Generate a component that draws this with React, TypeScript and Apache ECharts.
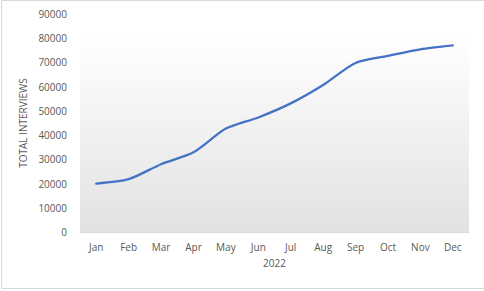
import React, { useEffect, useRef } from "react";
import * as echarts from "echarts";

const months = ["Jan", "Feb", "Mar", "Apr", "May", "Jun", "Jul", "Aug", "Sep", "Oct", "Nov", "Dec"];
const interviews = [20000, 21800, 28000, 32900, 42700, 47300, 53100, 60700, 69800, 72700, 75400, 77000];
const xAxisName = "2022";
const yAxisName = "TOTAL INTERVIEWS";

export default function App() {
  const ref = useRef<HTMLDivElement>(null);
  useEffect(() => {
    if (!ref.current) return;
    const chart = echarts.init(ref.current, null, { renderer: "svg" });
    const font = "Open Sans, Calibri, Carlito, sans-serif";
    chart.setOption({
      animation: false,
      backgroundColor: "#ffffff",
      textStyle: { fontFamily: font },
      graphic: [
        {
          type: "rect",
          shape: { x: 1.5, y: 0.5, width: 484, height: 288 },
          style: { fill: "none", stroke: "#d9d9d9", lineWidth: 1 },
          silent: true,
        },
      ],
      grid: {
        left: 80,
        right: 15,
        top: 14,
        bottom: 59,
        show: true,
        borderWidth: 0,
        backgroundColor: new echarts.graphic.LinearGradient(0, 0, 0, 1, [
          { offset: 0, color: "#ffffff" },
          { offset: 0.1, color: "#ffffff" },
          { offset: 1, color: "#e2e2e2" },
        ]),
      },
      xAxis: {
        type: "category",
        data: months,
        boundaryGap: true,
        name: xAxisName,
        nameLocation: "middle",
        nameGap: 26,
        nameTextStyle: { color: "#595959", fontSize: 10, fontFamily: font },
        axisLine: { lineStyle: { color: "#d9d9d9", width: 1 } },
        axisTick: { show: false },
        axisLabel: { color: "#595959", fontSize: 10, margin: 10, fontFamily: font },
      },
      yAxis: {
        type: "value",
        min: 0,
        max: 90000,
        interval: 10000,
        name: yAxisName,
        nameLocation: "middle",
        nameGap: 42,
        nameRotate: 90,
        nameTextStyle: { color: "#595959", fontSize: 10, fontFamily: font },
        axisLine: { show: false },
        axisTick: { show: false },
        splitLine: { show: false },
        axisLabel: {
          color: "#595959",
          fontSize: 10,
          margin: 13,
          fontFamily: font,
          formatter: (v: number) => String(v),
        },
      },
      series: [
        {
          type: "line",
          data: interviews,
          smooth: 0.25,
          showSymbol: false,
          lineStyle: { color: "#4472c4", width: 2.25, cap: "round" },
        },
      ],
    });
    return () => chart.dispose();
  }, []);
  return (
    <div
      ref={ref}
      style={{ position: "fixed", left: 0, top: 0, width: 484, height: 291 }}
    />
  );
}
